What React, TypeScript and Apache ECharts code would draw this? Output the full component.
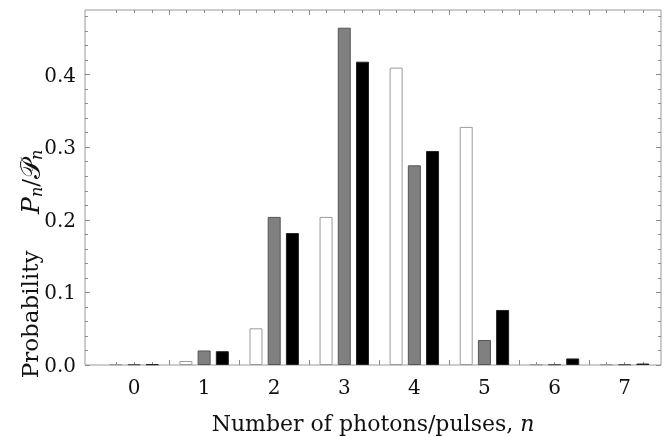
import { useEffect, useRef } from "react";
import * as echarts from "echarts";

const categories = [0, 1, 2, 3, 4, 5, 6, 7];
const whiteValues = [0.001, 0.0055, 0.0505, 0.204, 0.4096, 0.328, 0.001, 0.001];
const grayValues = [0.001, 0.02, 0.204, 0.4646, 0.275, 0.0344, 0.001, 0.001];
const blackValues = [0.001, 0.019, 0.1818, 0.4178, 0.2948, 0.0758, 0.009, 0.002];
const yMajorTicks = [0, 0.1, 0.2, 0.3, 0.4];
const yMinorTicks = [0.02, 0.04, 0.06, 0.08, 0.12, 0.14, 0.16, 0.18, 0.22, 0.24, 0.26, 0.28, 0.32, 0.34, 0.36, 0.38, 0.42, 0.44, 0.46, 0.48];
const barOffsets = [-0.26, 0, 0.26];
const xTitle = "Number of photons/pulses, {it|n}";
const yTitle = "Probability     {it|P}{sub|n}/{scr|𝒫}{sub|n}";

const FONT = "'DejaVu Serif', 'Liberation Serif', serif";
const TICK = "#8c8c8c";

export default function App() {
  const ref = useRef<HTMLDivElement>(null);
  useEffect(() => {
    const chart = echarts.init(ref.current!, null, { renderer: "svg" });
    const xMin = -0.7;
    const xMax = 7.52;
    const groupTicks = categories.slice(0, 7).map((n) => n + 0.5);
    const barTicks = categories.flatMap((n) => barOffsets.map((o) => n + o));
    const xBase = {
      type: "value",
      min: xMin,
      max: xMax,
      splitLine: { show: false },
      axisLine: { show: false, onZero: false },
    };
    const yBase = {
      type: "value",
      min: 0,
      max: 0.489,
      splitLine: { show: false },
      axisLine: { show: false, onZero: false },
    };
    const tick = (vals: number[], len: number) => ({
      show: true,
      inside: true,
      length: len,
      customValues: vals,
      lineStyle: { color: TICK, width: 1 },
    });
    const mkSeries = (vals: number[], k: number, color: string, border: string) => ({
      type: "bar",
      xAxisIndex: 0,
      yAxisIndex: 0,
      barWidth: 13,
      barGap: "-100%",
      data: categories.map((n, i) => [n + barOffsets[k], vals[i]]),
      itemStyle: { color, borderColor: border, borderWidth: 1 },
    });
    chart.setOption({
      animation: false,
      grid: {
        left: 85,
        top: 10,
        width: 576,
        height: 355,
        show: true,
        borderColor: "#999",
        borderWidth: 1,
        backgroundColor: "transparent",
      },
      xAxis: [
        {
          ...xBase,
          position: "bottom",
          axisTick: tick(groupTicks, 5),
          axisLabel: {
            customValues: categories,
            formatter: (v: number) => String(Math.round(v)),
            fontFamily: FONT,
            fontSize: 20,
            color: "#111",
            margin: 12,
          },
        },
        { ...xBase, position: "bottom", axisTick: tick(barTicks, 3), axisLabel: { show: false } },
        { ...xBase, position: "top", axisTick: tick(groupTicks, 5), axisLabel: { show: false } },
        { ...xBase, position: "top", axisTick: tick(barTicks, 3), axisLabel: { show: false } },
      ],
      yAxis: [
        {
          ...yBase,
          position: "left",
          axisTick: tick(yMajorTicks, 5),
          axisLabel: {
            customValues: yMajorTicks,
            formatter: (v: number) => v.toFixed(1),
            fontFamily: FONT,
            fontSize: 20,
            color: "#111",
            margin: 9,
          },
        },
        { ...yBase, position: "left", axisTick: tick(yMinorTicks, 3), axisLabel: { show: false } },
        { ...yBase, position: "right", axisTick: tick(yMajorTicks, 5), axisLabel: { show: false } },
        { ...yBase, position: "right", axisTick: tick(yMinorTicks, 3), axisLabel: { show: false } },
      ],
      series: [
        mkSeries(whiteValues, 0, "#ffffff", "#9a9a9a"),
        mkSeries(grayValues, 1, "#808080", "#555555"),
        mkSeries(blackValues, 2, "#000000", "#222222"),
      ],
      graphic: [
        {
          type: "text",
          x: 373,
          y: 423,
          style: {
            text: xTitle,
            fontFamily: FONT,
            fontSize: 22,
            fill: "#111",
            align: "center",
            verticalAlign: "middle",
            rich: { it: { fontFamily: FONT, fontSize: 22, fontStyle: "italic", fill: "#111" } },
          },
        },
        {
          type: "text",
          x: 30,
          y: 264,
          rotation: Math.PI / 2,
          style: {
            text: yTitle,
            fontFamily: FONT,
            fontSize: 23,
            fill: "#111",
            align: "center",
            verticalAlign: "middle",
            rich: {
              it: { fontFamily: FONT, fontSize: 25, fontStyle: "italic", fill: "#111" },
              scr: { fontFamily: FONT, fontSize: 27, fill: "#111" },
              sub: { fontFamily: FONT, fontSize: 16, fontStyle: "italic", fill: "#111", padding: [13, 0, 0, 0] },
            },
          },
        },
      ],
    });
    return () => chart.dispose();
  }, []);
  return <div ref={ref} style={{ position: "fixed", left: 0, top: 0, width: 668, height: 437 }} />;
}
